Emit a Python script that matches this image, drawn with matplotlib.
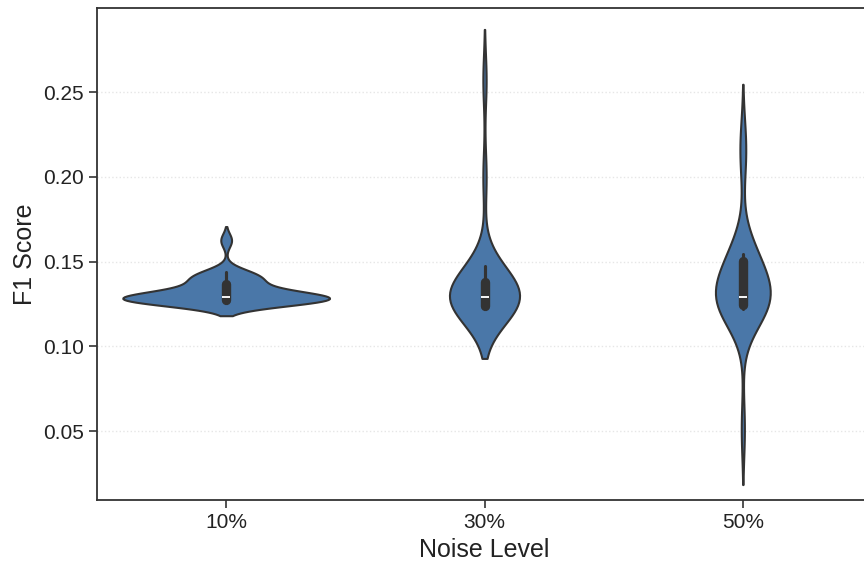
import numpy as np
import pandas as pd
import matplotlib
matplotlib.use("Agg")
import matplotlib.pyplot as plt
import seaborn as sns

# noise levels on the x axis
levels = ["10%", "30%", "50%"]

# F1 scores of the runs at each noise level
f1_10 = [0.1262, 0.1265, 0.1267, 0.1269, 0.1270, 0.1272, 0.1273, 0.1274,
         0.1276, 0.1278, 0.1280, 0.1282, 0.1284, 0.1286, 0.1288, 0.1290,
         0.1295, 0.1302, 0.1312, 0.1325, 0.1345, 0.1368, 0.1380, 0.1392,
         0.1405, 0.1418, 0.1428, 0.1437, 0.1625]

f1_30 = [0.1228, 0.1229, 0.1230, 0.1231, 0.1232, 0.1233, 0.1234, 0.1250,
         0.1262, 0.1272, 0.1280, 0.1284, 0.1287, 0.1290, 0.1298, 0.1310,
         0.1330, 0.1355, 0.1370, 0.1385, 0.1405, 0.1425, 0.1445, 0.1476,
         0.2000, 0.2570]

f1_50 = [0.0510, 0.1220, 0.1228, 0.1234, 0.1238, 0.1240, 0.1242, 0.1250,
         0.1262, 0.1272, 0.1280, 0.1285, 0.1288, 0.1300, 0.1340, 0.1380,
         0.1420, 0.1465, 0.1505, 0.1520, 0.1535, 0.1545, 0.1547, 0.2100,
         0.2220]

df = pd.DataFrame({
    "Noise Level": [levels[0]] * len(f1_10) + [levels[1]] * len(f1_30) + [levels[2]] * len(f1_50),
    "F1 Score": np.concatenate([f1_10, f1_30, f1_50]),
})

sns.set_theme(style="ticks")
plt.rcParams["font.family"] = ["Liberation Sans", "DejaVu Sans"]

fig = plt.figure(figsize=(8.64, 5.69), dpi=100)
ax = fig.add_axes([97 / 864, 69 / 569, 775 / 864, 492 / 569])

sns.violinplot(
    data=df, x="Noise Level", y="F1 Score", order=levels,
    color="#4A77A8", saturation=1, linewidth=1.5, linecolor="#333333",
    inner="box", ax=ax,
)

ax.set_ylim(0.0093, 0.2996)
ax.set_yticks([0.05, 0.10, 0.15, 0.20, 0.25])
ax.yaxis.grid(True, linestyle=":", color="#e6e6e6", linewidth=1.0)
ax.set_axisbelow(True)

for side in ["left", "bottom", "top"]:
    ax.spines[side].set_color("#333333")
    ax.spines[side].set_linewidth(1.3)
ax.spines["right"].set_visible(False)
ax.tick_params(axis="both", labelsize=15, length=6, width=1.2, color="#333333", labelcolor="#222222")
ax.set_xlabel("Noise Level", fontsize=18, color="#222222")
ax.set_ylabel("F1 Score", fontsize=18, color="#222222")

fig.savefig("out.png", dpi=100)
